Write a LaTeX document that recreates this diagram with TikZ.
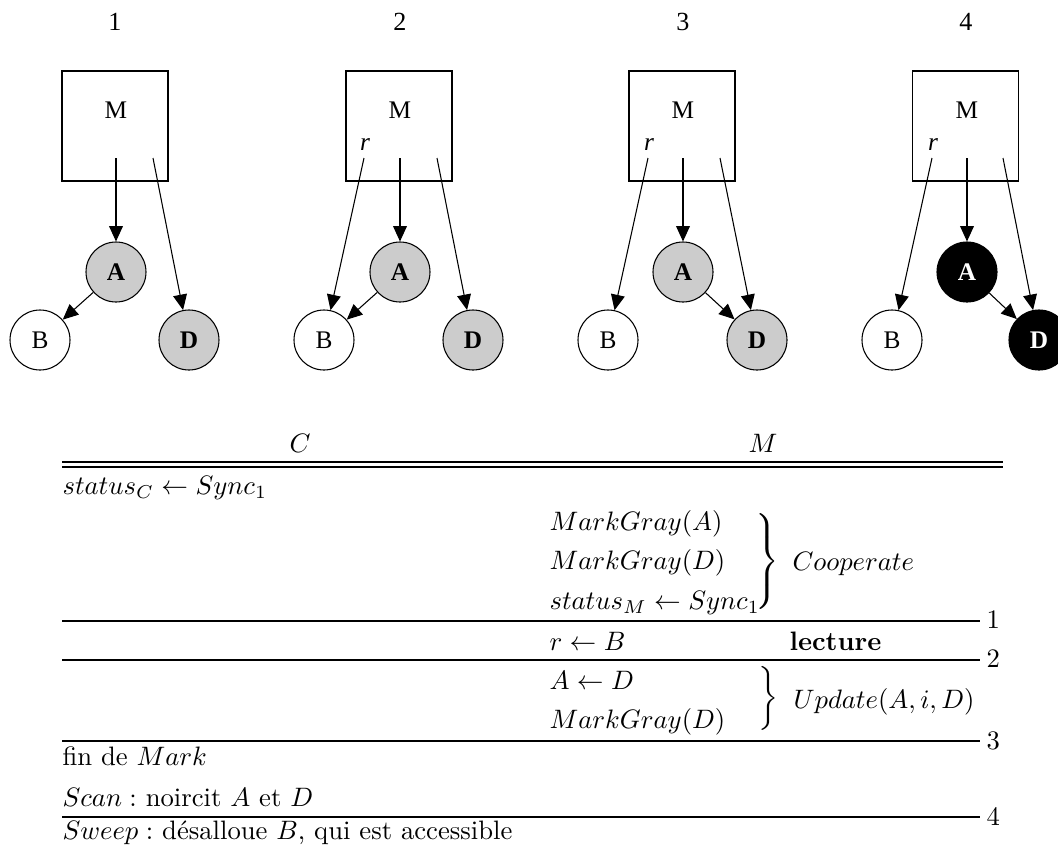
\documentclass[tikz,border=0pt]{standalone}
\usepackage{fontspec}
\newfontfamily\tms{Liberation Serif}
\usetikzlibrary{arrows.meta}
\definecolor{nodegray}{RGB}{204,204,204}
\newcommand{\mybrace}[1]{$\nulldelimiterspace=0pt\delimiterfactor=1000\delimitershortfall=0pt\left.\vcenter{\hbox{\vrule height #1 width 0pt}}\right\}$}
\begin{document}
\begin{tikzpicture}[x=0.375pt,y=-0.375pt,
  lbl/.style={inner sep=0pt,font=\tms\fontsize{9.5}{11}\selectfont},
  toplbl/.style={inner sep=0pt,font=\tms\fontsize{9.8}{11}\selectfont},
  rlbl/.style={inner sep=0pt,font=\tms\itshape\fontsize{9.5}{11}\selectfont},
  mbox/.style={draw,line width=0.4pt,minimum width=39.75pt,minimum height=41.25pt,inner sep=0pt},
  obj/.style={circle,draw,line width=0.4pt,minimum size=22.5pt,inner sep=0pt,font=\tms\fontsize{9.5}{11}\selectfont},
  grayobj/.style={obj,fill=nodegray,font=\tms\bfseries\fontsize{9.5}{11}\selectfont},
  blackobj/.style={obj,fill=black,text=white,font=\tms\bfseries\fontsize{9.5}{11}\selectfont},
  ptr/.style={-{Triangle[length=5.8pt,width=5.2pt]},line width=0.4pt},
  tab/.style={anchor=base west,inner sep=0pt},
  rule/.style={line width=0.6pt},
  thickrule/.style={line width=0.9pt},
  brc/.style={anchor=east,inner sep=0pt}]
\useasboundingbox (0,0) rectangle (1058,850);

% ---------- panel 1 ----------
\node[toplbl] (t1) at (115,22) {1};
\node[mbox] (M1) at (115,126) {};
\node[lbl] (M1t) at (116,110) {M};
\coordinate (M1a) at (116,158);
\coordinate (M1d) at (153,158);
\node[grayobj] (A1) at (116,272) {A};
\node[obj] (B1) at (40,340) {B};
\node[grayobj] (D1) at (189,340) {D};
\draw[ptr] (M1a) -- (A1);
\draw[ptr] (M1d) -- (D1);
\draw[ptr] (A1) -- (B1);

% ---------- panel 2 ----------
\node[toplbl] (t2) at (400,22) {2};
\node[mbox] (M2) at (399,126) {};
\node[lbl] (M2t) at (400,110) {M};
\node[rlbl] (r2) at (365,145) {r};
\coordinate (M2r) at (364,158);
\coordinate (M2a) at (400,158);
\coordinate (M2d) at (437,158);
\node[grayobj] (A2) at (400,272) {A};
\node[obj] (B2) at (324,340) {B};
\node[grayobj] (D2) at (473,340) {D};
\draw[ptr] (M2r) -- (B2);
\draw[ptr] (M2a) -- (A2);
\draw[ptr] (M2d) -- (D2);
\draw[ptr] (A2) -- (B2);

% ---------- panel 3 ----------
\node[toplbl] (t3) at (683,22) {3};
\node[mbox] (M3) at (682,126) {};
\node[lbl] (M3t) at (683,110) {M};
\node[rlbl] (r3) at (649,145) {r};
\coordinate (M3r) at (648,158);
\coordinate (M3a) at (683,158);
\coordinate (M3d) at (720,158);
\node[grayobj] (A3) at (683,272) {A};
\node[obj] (B3) at (608,340) {B};
\node[grayobj] (D3) at (757,340) {D};
\draw[ptr] (M3r) -- (B3);
\draw[ptr] (M3a) -- (A3);
\draw[ptr] (M3d) -- (D3);
\draw[ptr] (A3) -- (D3);

% ---------- panel 4 ----------
\node[toplbl] (t4) at (966,22) {4};
\node[mbox] (M4) at (965.5,126) {};
\node[lbl] (M4t) at (967,110) {M};
\node[rlbl] (r4) at (933,145) {r};
\coordinate (M4r) at (932,158);
\coordinate (M4a) at (967,158);
\coordinate (M4d) at (1003,158);
\node[blackobj] (A4) at (967,272) {A};
\node[obj] (B4) at (892,340) {B};
\node[blackobj] (D4) at (1039,340) {D};
\draw[ptr] (M4r) -- (B4);
\draw[ptr] (M4a) -- (A4);
\draw[ptr] (M4d) -- (D4);
\draw[ptr] (A4) -- (D4);

% ---------- table ----------
\node[anchor=base,inner sep=0pt] (hC) at (300,452) {$C$};
\node[anchor=base,inner sep=0pt] (hM) at (763,452) {$M$};
\coordinate (d1a) at (62,462); \coordinate (d1b) at (1003,462);
\coordinate (d2a) at (62,467); \coordinate (d2b) at (1003,467);
\draw[rule] (d1a) -- (d1b);
\draw[rule] (d2a) -- (d2b);

\node[tab] (c1) at (62,494) {$status_C \leftarrow Sync_1$};
\node[tab] (m1) at (549,530) {$MarkGray(A)$};
\node[tab] (m2) at (549,569.5) {$MarkGray(D)$};
\node[tab] (m3) at (549,609) {$status_M \leftarrow Sync_1$};
\node[brc] (b1) at (780,561.5) {\mybrace{33pt}};
\node[tab] (coop) at (792,570) {$Cooperate$};

\coordinate (l1a) at (62,621); \coordinate (l1b) at (980,621);
\draw[rule] (l1a) -- (l1b);
\node[tab] (n1) at (986,628) {1};

\node[tab] (m4) at (549,650) {$r \leftarrow B$};
\node[tab] (lec) at (789,650) {\textbf{lecture}};

\coordinate (l2a) at (62,660); \coordinate (l2b) at (980,660);
\draw[thickrule] (l2a) -- (l2b);
\node[tab] (n2) at (986,667) {2};

\node[tab] (m5) at (549,689) {$A \leftarrow D$};
\node[tab] (m6) at (549,728) {$MarkGray(D)$};
\node[brc] (b2) at (779,698.5) {\mybrace{22pt}};
\node[tab] (upd) at (793,708) {$Update(A,i,D)$};

\coordinate (l3a) at (62,741); \coordinate (l3b) at (980,741);
\draw[rule] (l3a) -- (l3b);
\node[tab] (n3) at (986,749) {3};

\node[tab] (c2) at (62,765) {fin de $Mark$};
\node[tab] (c3) at (62,806) {$Scan:$ noircit $A$ et $D$};

\coordinate (l4a) at (62,817); \coordinate (l4b) at (980,817);
\draw[rule] (l4a) -- (l4b);
\node[tab] (n4) at (986,825) {4};

\node[tab] (c4) at (62,839) {$Sweep:$ désalloue $B$, qui est accessible};
\end{tikzpicture}
\end{document}
